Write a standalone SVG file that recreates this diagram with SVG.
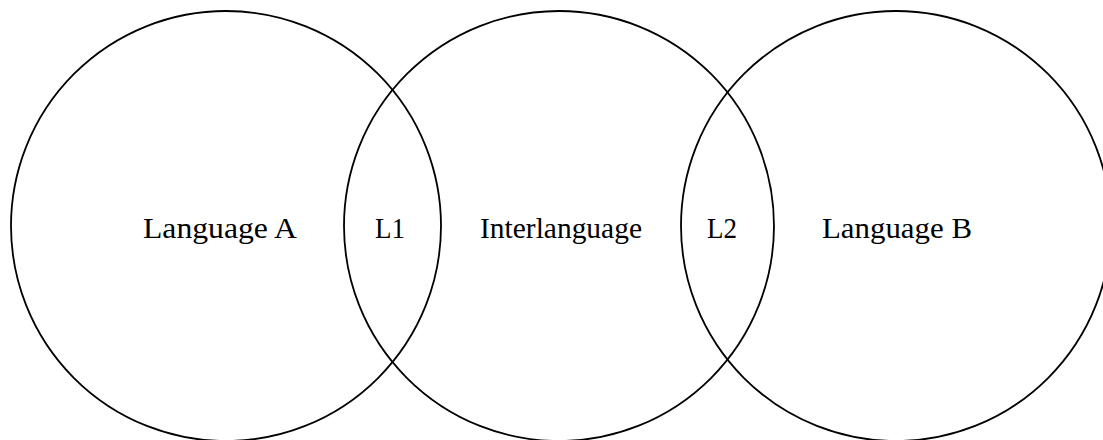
<svg xmlns="http://www.w3.org/2000/svg" width="1103" height="440" viewBox="0 0 1103 440">
  <style>
    .ring { fill: none; stroke: #000; stroke-width: 1.8; }
    .lbl { font-family: "Liberation Serif", "Times New Roman", serif; font-size: 29px; fill: #000; }
  </style>
  <rect x="0" y="0" width="1103" height="440" fill="#fff"/>
  <g id="language-a">
    <circle class="ring" cx="226" cy="226" r="215"/>
    <text class="lbl" x="143" y="238" textLength="154" lengthAdjust="spacingAndGlyphs">Language A</text>
  </g>
  <g id="interlanguage">
    <circle class="ring" cx="559" cy="226" r="215"/>
    <text class="lbl" x="480" y="238" textLength="162" lengthAdjust="spacingAndGlyphs">Interlanguage</text>
  </g>
  <g id="language-b">
    <circle class="ring" cx="896" cy="226" r="215"/>
    <text class="lbl" x="822" y="238" textLength="150" lengthAdjust="spacingAndGlyphs">Language B</text>
  </g>
  <g id="l1">
    <text class="lbl" x="375" y="238" textLength="30" lengthAdjust="spacingAndGlyphs">L1</text>
  </g>
  <g id="l2">
    <text class="lbl" x="707" y="238" textLength="30" lengthAdjust="spacingAndGlyphs">L2</text>
  </g>
</svg>
